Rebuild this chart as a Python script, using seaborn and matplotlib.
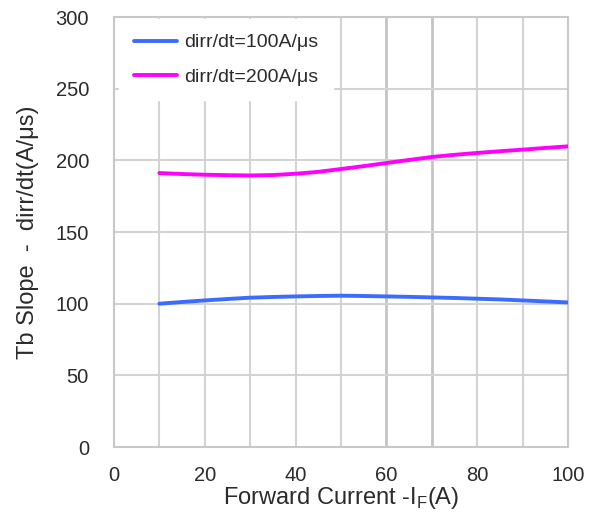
import matplotlib
matplotlib.use("Agg")
import matplotlib.pyplot as plt
import seaborn as sns
import pandas as pd

# Forward current (A)
current = [10, 15, 20, 25, 30, 35, 40, 45, 50, 55, 60, 65, 70, 75, 80, 85, 90, 95, 100]
# Tb slope for each dirr/dt condition (A/us)
slope_100 = [100.0, 101.2, 102.3, 103.3, 104.2, 104.7, 105.1, 105.4, 105.6, 105.4, 105.1,
             104.8, 104.4, 104.0, 103.5, 103.0, 102.3, 101.6, 100.9]
slope_200 = [191.2, 190.5, 190.0, 189.7, 189.5, 189.8, 190.7, 192.0, 194.0, 196.0, 198.2,
             200.3, 202.4, 203.9, 205.2, 206.4, 207.5, 208.7, 209.8]
series_names = ["dirr/dt=100A/\u03bcs", "dirr/dt=200A/\u03bcs"]
x_ticks = [0, 20, 40, 60, 80, 100]
y_ticks = [0, 50, 100, 150, 200, 250, 300]

df = pd.DataFrame({
    "current": current * 2,
    "slope": slope_100 + slope_200,
    "series": [series_names[0]] * len(current) + [series_names[1]] * len(current),
})

sns.set_style("white")
plt.rcParams["font.family"] = ["Liberation Sans", "DejaVu Sans"]

fig = plt.figure(figsize=(6.03, 5.18), dpi=100)
ax = fig.add_axes([0.189, 0.137, 0.753, 0.830])

grid_color = "#d3d3d3"
for xv in range(10, 100, 10):
    ax.axvline(xv, color="#c4c4c4" if xv in (60, 70) else grid_color,
               lw=2.0 if xv in (60, 70) else 1.5, zorder=0)
for yv in range(50, 300, 50):
    ax.axhline(yv, color=grid_color, lw=1.5, zorder=0)

sns.lineplot(data=df, x="current", y="slope", hue="series",
             palette=["#3c6cff", "#ff00ff"], linewidth=2.8, ax=ax,
             legend=True, zorder=3)

ax.set_xlim(0, 100)
ax.set_ylim(0, 300)
ax.set_xticks(x_ticks)
ax.set_yticks(y_ticks)
ax.tick_params(axis="both", length=0, labelsize=14.5, colors="#2b2b2b")
ax.tick_params(axis="y", pad=18)
ax.tick_params(axis="x", pad=14)

for s in ax.spines.values():
    s.set_color("#c8c8c8")
    s.set_linewidth(1.5)

ax.set_xlabel(r"Forward Current -I$_\mathregular{F}$(A)", fontsize=17,
              color="#2b2b2b", labelpad=0)
ax.set_ylabel("Tb Slope  -  dirr/dt(A/\u03bcs)", fontsize=17,
              color="#2b2b2b", labelpad=12)

leg = ax.legend(loc="upper left", frameon=True, fontsize=14, handlelength=2.2,
                handletextpad=0.4, borderpad=0.75, borderaxespad=0.0,
                labelspacing=0.85, bbox_to_anchor=(0.012, 0.995))
leg.get_frame().set_facecolor("white")
leg.get_frame().set_edgecolor("white")
leg.get_frame().set_alpha(1.0)
leg.set_zorder(5)
for t in leg.get_texts():
    t.set_color("#2b2b2b")

fig.savefig("out.png", dpi=100)
